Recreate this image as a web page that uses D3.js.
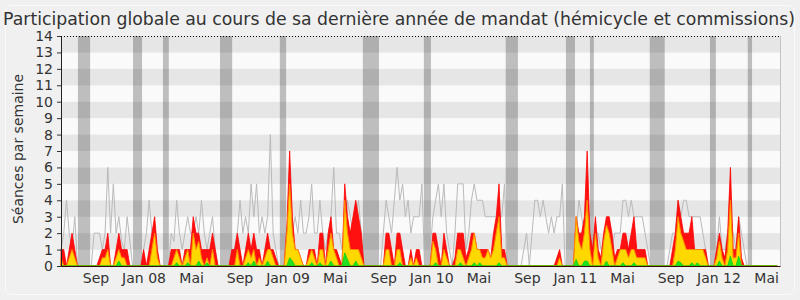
<!DOCTYPE html>
<html>
<head>
<meta charset="utf-8">
<script src="https://cdn.jsdelivr.net/npm/d3@7"></script>
<style>
  body { margin: 0; background: #f0f0f0; }
  svg { display: block; font-family: "DejaVu Sans", sans-serif; }
</style>
</head>
<body>
<script>
//Width and height
var w = 800;
var h = 300;

var titre = "Participation globale au cours de sa dernière année de mandat (hémicycle et commissions)";
var labelY = "Séances par semaine";

// premiere semaine du graphique, une valeur par semaine
var debut = "2007-06-18";
var fin = "2012-06-18";

// courbe grise (mediane des deputes)
var mediane = [
  1, 2, 4, 2, 1, 3, 0, 0, 0, 0,
  0, 0, 2, 2, 2, 1, 2, 6, 2, 5,
  2, 3, 1.5, 1, 3, 1.5, 0, 0, 0, 0,
  1, 2, 4, 2, 1, 0.5, 0, 0, 0, 0,
  2, 1.5, 4, 2, 1, 2, 3, 2, 2, 3,
  2, 4, 2, 1, 2, 3, 1, 0, 0, 0,
  0, 0, 0, 1, 2, 4, 2, 3, 2, 5,
  3, 5, 2, 3, 2, 3, 8, 2, 1, 0,
  0, 0, 1, 2, 2, 3, 2, 4, 2, 2,
  3, 5, 2, 2, 4, 2, 1, 2, 3, 6,
  2, 2, 1, 2, 4, 3, 2, 3, 4, 2,
  0, 0, 0, 0, 0, 0, 0, 2, 4, 3,
  2, 4, 6, 4, 5, 3, 4, 2, 3, 3,
  3, 5, 0, 0, 1, 3, 4, 5, 3, 5,
  2, 1, 0, 2, 5, 5, 5, 1, 2, 4,
  5, 4, 4, 4, 3, 3, 3, 3, 3, 3,
  3, 5, 0, 0, 0, 0, 0, 0, 1, 2,
  0, 2, 4, 4, 3, 4, 3, 2, 3, 2,
  3, 3, 5, 0, 0, 0, 0, 2, 4, 3,
  2, 2, 0, 0, 2, 2, 1, 1, 0.5, 1,
  1, 2, 2, 2, 4, 4, 3, 4, 3, 3,
  3, 3, 2, 1, 0, 0, 0, 0, 0, 0,
  0, 1, 2, 2, 4, 3, 4, 4, 3, 3,
  3, 3, 3, 2, 1, 0, 0, 0, 1, 3,
  1, 1, 2, 3, 2, 1, 3, 2, 1, 0,
  0, 0, 0, 0, 0, 0, 0, 0, 0, 0,
  0
];

// presences (rouge)
var presences = [
  1, 1, 0, 1, 2, 1, 0, 0, 0, 0,
  0, 0, 0, 0, 0.5, 1, 1, 2, 0, 0,
  1, 2, 1, 1, 1, 0, 0, 0, 0, 0,
  1, 0, 1, 2, 3, 1, 0, 0, 0, 0,
  1, 1, 1, 1, 0, 1, 1, 1, 3, 2,
  2, 1, 1, 1, 1, 2, 1, 0, 0, 0,
  0, 0, 1, 1, 2, 1, 0, 1, 2, 1,
  2, 1, 1, 0, 1, 2, 1, 1, 0.5, 0,
  0, 0, 2.5, 7, 3, 1, 1, 0.5, 0, 0,
  1, 1, 1, 0, 2, 2, 0, 2, 3, 1,
  1, 0.5, 0, 5, 3, 2, 3, 4, 3, 2,
  0, 0, 0, 0, 0, 0, 0, 0, 2, 2,
  1, 0, 2, 2, 1, 0, 0, 1, 0, 1,
  1, 0, 0, 0, 0, 2, 2, 1, 0, 2,
  1, 0, 0, 0.5, 2, 2, 2, 0.5, 1, 2,
  2, 1, 1, 1, 1, 1, 0.5, 2, 3, 5,
  1, 1, 0, 0, 0, 0, 0, 0, 0, 0,
  0, 0, 0, 0, 0, 0, 0, 0, 0, 0,
  0.5, 1, 0, 0, 0, 0, 0, 3, 2, 2,
  3, 7, 2, 1, 3, 1, 0.5, 2, 3, 3,
  2, 0.5, 1, 1, 2, 2, 1, 2, 3, 1,
  1, 1, 1, 0, 0, 0, 0, 0, 0, 0,
  0, 0, 1, 2, 4, 3, 2, 2, 2, 3,
  1, 1, 1, 1, 1, 0, 0, 0, 1, 2,
  1, 0.5, 2, 6, 1, 1, 3, 0.5, 0, 0,
  0, 0, 0, 0, 0, 0, 0, 0, 0, 0,
  0
];

// participations (jaune)
var participations = [
  0.5, 0, 0, 0.5, 1, 0.5, 0, 0, 0, 0,
  0, 0, 0, 0, 0, 0.5, 0.5, 1, 0, 0,
  0.5, 1, 0.5, 0.5, 0, 0, 0, 0, 0, 0,
  0, 0, 0, 1, 2, 0.5, 0, 0, 0, 0,
  0, 0.5, 1, 0.5, 0, 0.5, 1, 0, 2, 1,
  1.5, 0.5, 0, 0.5, 0, 1, 0, 0, 0, 0,
  0, 0, 0, 0, 1, 0, 0, 0.5, 1, 0.5,
  1, 0, 0.5, 0, 0.5, 1, 1, 0.5, 0, 0,
  0, 0, 2, 5, 2, 1, 1, 0.5, 0, 0,
  0.5, 1, 0.5, 0, 1, 1, 0, 1, 2, 1,
  0.5, 0, 0, 4, 2, 1, 1, 1, 1, 0.5,
  0, 0, 0, 0, 0, 0, 0, 0, 1, 1,
  0, 0, 1, 1, 0, 0, 0, 0.5, 0, 0.5,
  0, 0, 0, 0, 0, 1.5, 1, 0, 0, 1,
  0.5, 0, 0, 0, 1, 1, 0.5, 0, 0.5, 1,
  2, 1, 1, 0.5, 0.5, 1, 0.5, 1, 2, 3,
  0.5, 0.5, 0, 0, 0, 0, 0, 0, 0, 0,
  0, 0, 0, 0, 0, 0, 0, 0, 0, 0,
  0, 0.5, 0, 0, 0, 0, 0, 3, 1.5, 1,
  2, 4, 1, 0, 2, 0.5, 0, 1.5, 2.5, 2,
  1, 0, 0.5, 1, 1, 1, 0.5, 1, 1, 0.5,
  0.5, 0.5, 0.5, 0, 0, 0, 0, 0, 0, 0,
  0, 0, 0, 1, 3, 2, 1.5, 1, 1, 1,
  1, 1, 1, 1, 0.5, 0, 0, 0, 0.5, 1.5,
  0.5, 0, 1, 4, 0.5, 0.5, 2, 0, 0, 0,
  0, 0, 0, 0, 0, 0, 0, 0, 0, 0,
  0
];

// interventions (vert)
var interventions = [
  0, 0, 0, 0, 0, 0, 0, 0, 0, 0,
  0, 0, 0, 0, 0, 0, 0, 0, 0, 0,
  0, 0.3, 0, 0, 0, 0, 0, 0, 0, 0,
  0, 0, 0, 0, 0, 0, 0, 0, 0, 0,
  0, 0, 0.2, 0, 0, 0, 0.2, 0, 0, 0,
  0.3, 0, 0, 0.2, 0, 0, 0, 0, 0, 0,
  0, 0, 0, 0, 0, 0, 0, 0, 0.2, 0,
  0.3, 0, 0, 0, 0, 0.3, 0, 0, 0, 0,
  0, 0, 0, 0.5, 0.3, 0, 0, 0, 0, 0,
  0, 0.2, 0, 0, 0.2, 0, 0, 0, 0.3, 0,
  0, 0, 0, 0.8, 0.4, 0, 0, 0.3, 0, 0,
  0, 0, 0, 0, 0, 0, 0, 0, 0, 0,
  0, 0, 0, 0.2, 0, 0, 0, 0, 0, 0,
  0, 0, 0, 0, 0, 0, 0.2, 0, 0, 0,
  0, 0, 0, 0, 0, 0.2, 0, 0, 0, 0,
  0.2, 0, 0.2, 0, 0, 0, 0, 0, 0, 0.2,
  0, 0, 0, 0, 0, 0, 0, 0, 0, 0,
  0, 0, 0, 0, 0, 0, 0, 0, 0, 0,
  0, 0, 0, 0, 0, 0, 0, 0.4, 0, 0,
  0.3, 0.3, 0, 0, 0, 0, 0, 0, 0.3, 0,
  0, 0, 0, 0, 0.2, 0, 0, 0, 0.2, 0,
  0, 0, 0, 0, 0, 0, 0, 0, 0, 0,
  0, 0, 0, 0, 0.3, 0.2, 0, 0, 0, 0.2,
  0, 0.2, 0, 0, 0, 0, 0, 0, 0, 0.3,
  0, 0, 0, 0.6, 0, 0, 0.6, 0, 0, 0,
  0, 0, 0, 0, 0, 0, 0, 0, 0, 0,
  0
];

// vacances parlementaires (bandes grises)
var vacances = [
  ["2007-07-31", "2007-08-31"],
  ["2007-12-18", "2008-01-10"],
  ["2008-03-03", "2008-03-18"],
  ["2008-07-26", "2008-08-26"],
  ["2008-12-25", "2009-01-10"],
  ["2009-07-24", "2009-09-03"],
  ["2009-12-26", "2010-01-13"],
  ["2010-07-22", "2010-08-22"],
  ["2010-12-22", "2011-01-14"],
  ["2011-02-21", "2011-03-03"],
  ["2011-07-23", "2011-08-30"],
  ["2011-12-23", "2012-01-07"],
  ["2012-03-28", "2012-04-08"]
];

// mois affiches sous l'axe
var moisDates = ["2007-09-01", "2008-01-01", "2008-05-01", "2008-09-01", "2009-01-01",
  "2009-05-01", "2009-09-01", "2010-01-01", "2010-05-01", "2010-09-01",
  "2011-01-01", "2011-05-01", "2011-09-01", "2012-01-01", "2012-05-01"];
var moisLabels = ["Sep", "Jan 08", "Mai", "Sep", "Jan 09", "Mai", "Sep", "Jan 10",
  "Mai", "Sep", "Jan 11", "Mai", "Sep", "Jan 12", "Mai"];

var yMax = 14;

var parse = d3.timeParse("%Y-%m-%d");
var t0 = parse(debut);

// zone du graphique (attention: "top" est reserve par window)
var pLeft = 61, pRight = 780, pTop = 36, pBottom = 266;

var x = d3.scaleTime().domain([t0, parse(fin)]).range([pLeft, pRight]);
var y = d3.scaleLinear().domain([0, yMax]).range([pBottom, pTop]);

function serie(values) {
  return values.map(function (v, i) {
    return { date: d3.timeDay.offset(t0, 7 * i), v: v };
  });
}

//Create SVG element
var svg = d3.select("body").append("svg").attr("width", w).attr("height", h);

svg.append("rect")
  .attr("width", w)
  .attr("height", h)
  .attr("fill", "#f0f0f0");

svg.append("rect")
  .attr("x", 5.5).attr("y", 5.5)
  .attr("width", 789).attr("height", 289)
  .attr("rx", 6)
  .attr("fill", "none")
  .attr("stroke", "#fbfbfb");

// bandes horizontales
svg.selectAll(".bande")
  .data(d3.range(0, yMax))
  .enter()
  .append("rect")
  .attr("class", "bande")
  .attr("x", pLeft)
  .attr("width", pRight - pLeft)
  .attr("y", function (d) { return y(d + 1); })
  .attr("height", function (d) { return y(d) - y(d + 1); })
  .attr("fill", function (d) { return d % 2 == 1 ? "#e6e6e6" : "#fafafa"; });

// vacances
svg.selectAll(".vac")
  .data(vacances)
  .enter()
  .append("rect")
  .attr("class", "vac")
  .attr("x", function (d) { return x(parse(d[0])); })
  .attr("width", function (d) { return x(parse(d[1])) - x(parse(d[0])); })
  .attr("y", pTop)
  .attr("height", pBottom - pTop)
  .attr("fill", "#000")
  .attr("opacity", 0.24);

// mediane
var line = d3.line()
  .x(function (d) { return x(d.date); })
  .y(function (d) { return y(d.v); });

svg.append("path")
  .datum(serie(mediane))
  .attr("d", line)
  .attr("fill", "none")
  .attr("stroke", "#bababa")
  .attr("stroke-width", 1);

var area = d3.area()
  .x(function (d) { return x(d.date); })
  .y0(y(0))
  .y1(function (d) { return y(d.v); });

svg.append("path")
  .datum(serie(presences))
  .attr("d", area)
  .attr("fill", "#ff1010")
  .attr("stroke", "#ff0000")
  .attr("stroke-width", 0.8);

svg.append("path")
  .datum(serie(participations))
  .attr("d", area)
  .attr("fill", "#ffd800")
  .attr("stroke", "#ff8a00")
  .attr("stroke-width", 1);

svg.append("path")
  .datum(serie(interventions))
  .attr("d", area)
  .attr("fill", "#22e022")
  .attr("stroke", "#10d010")
  .attr("stroke-width", 0.8);

// axe Y
var yAxis = d3.axisLeft(y).tickValues(d3.range(0, yMax + 1)).tickSize(4).tickPadding(4);
var gy = svg.append("g")
  .attr("transform", "translate(" + pLeft + ",0)")
  .call(yAxis);
gy.selectAll("text").attr("font-size", 14).attr("fill", "#333").attr("font-family", "DejaVu Sans");
gy.selectAll("line").attr("stroke", "#333");
gy.select(".domain").attr("stroke", "#222");

// axe X
var xAxis = d3.axisBottom(x)
  .tickValues(moisDates.map(parse))
  .tickFormat(function (d, i) { return moisLabels[i]; })
  .tickSize(0)
  .tickPadding(7);
var gx = svg.append("g")
  .attr("transform", "translate(0," + pBottom + ")")
  .call(xAxis);
gx.selectAll("text").attr("font-size", 14).attr("fill", "#333")
  .attr("font-family", "DejaVu Sans").attr("dx", 5);
gx.select(".domain").attr("stroke", "#3a0a0a");

// ligne pointillee du haut
svg.append("line")
  .attr("x1", pLeft).attr("x2", pRight)
  .attr("y1", pTop + 0.5).attr("y2", pTop + 0.5)
  .attr("stroke", "#000")
  .attr("stroke-dasharray", "1,2");

// bord droit
svg.append("line")
  .attr("x1", pRight + 0.5).attr("x2", pRight + 0.5)
  .attr("y1", pTop).attr("y2", pBottom)
  .attr("stroke", "#c4c4c4");

// titre
svg.append("text")
  .attr("x", 399)
  .attr("y", 25)
  .attr("text-anchor", "middle")
  .attr("font-size", 17.3)
  .attr("fill", "#333")
  .text(titre);

svg.append("text")
  .attr("transform", "translate(23,149) rotate(-90)")
  .attr("text-anchor", "middle")
  .attr("font-size", 14)
  .attr("fill", "#333")
  .text(labelY);
</script>
</body>
</html>
